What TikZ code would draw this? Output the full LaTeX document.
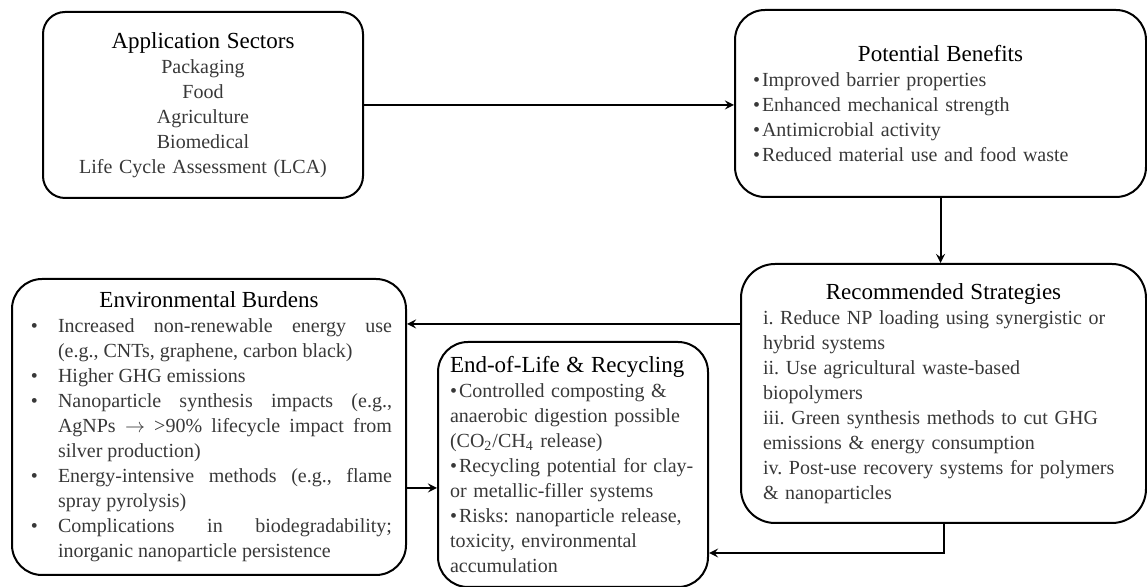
\documentclass[tikz,border=0pt]{standalone}
\usepackage{fontspec}
\setmainfont{Liberation Serif}
\usepackage{tikz}
\usepackage{xcolor}

\newcommand{\hd}[1]{{\fontsize{11.5}{12.5}\selectfont\color{black}#1}}
\newcommand{\bul}{\textbullet\kern1pt}

\begin{document}
\begin{tikzpicture}[x=0.5pt, y=-0.5pt, line width=1pt, >=stealth,
    box/.style={draw, rounded corners=15pt, inner ysep=2pt, text=black!78,
      font=\fontsize{10}{12.5}\selectfont\frenchspacing}]
    \useasboundingbox (0,0) rectangle (1147,587);
    % top row
    \node[box, rounded corners=11pt, text width=150pt, inner xsep=5pt, minimum height=93pt, align=center] (appl) at (203,105)
      {\hd{Application Sectors}\\ Packaging\\ Food\\ Agriculture\\ Biomedical\\ Life Cycle Assessment (LCA)};
    \node[box, text width=187.5pt, inner xsep=9pt, minimum height=93.5pt] (benef) at (940.5,103.5)
      {{\centering\hd{Potential Benefits}\par}\raggedright
       \bul Improved barrier properties\\ \bul Enhanced mechanical strength\\
       \bul Antimicrobial activity\\ \bul Reduced material use and food waste\\[4pt]};
    % bottom row
    \node[box, rounded corners=17pt, text width=180.5pt, inner xsep=11pt, minimum height=129.5pt] (strat) at (943.5,393.5)
      {{\centering\hd{Recommended Strategies}\par}\raggedright
       i. Reduce NP loading using synergistic or\\ hybrid systems\\
       ii. Use agricultural waste-based\\ biopolymers\\
       iii. Green synthesis methods to cut GHG\\ emissions \& energy consumption\\
       iv. Post-use recovery systems for polymers\\ \& nanoparticles};
    \node[box, text width=183pt, inner xsep=7pt, minimum height=148pt, align=justify] (env) at (209,427)
      {{\centering\hd{Environmental Burdens}\par}
       \rightskip=0pt\relax\csname @rightskip\endcsname=0pt\relax
       \begin{list}{\textbullet}{\setlength{\leftmargin}{16pt}\setlength{\labelwidth}{4pt}%
         \setlength{\labelsep}{10pt}\setlength{\topsep}{0pt}\setlength{\partopsep}{0pt}%
         \setlength{\itemsep}{0pt}\setlength{\parsep}{0pt}}
       \item Increased non-renewable energy use\linebreak (e.g., CNTs, graphene, carbon black)
       \item Higher GHG emissions
       \item Nanoparticle synthesis impacts (e.g.,\linebreak AgNPs $\rightarrow$ >90\% lifecycle impact from\linebreak silver production)
       \item Energy-intensive methods (e.g., flame\linebreak spray pyrolysis)
       \item Complications in biodegradability;\linebreak inorganic nanoparticle persistence
       \end{list}};
    \node[box, text width=123pt, inner xsep=6pt, minimum height=122.5pt] (eol) at (573,464.5)
      {\raggedright\hd{End-of-Life \& Recycling}\\
       \bul Controlled composting \&\\ anaerobic digestion possible\\
       (CO\textsubscript{2}/CH\textsubscript{4} release)\\
       \bul Recycling potential for clay-\\ or metallic-filler systems\\
       \bul Risks: nanoparticle release,\\ toxicity, environmental\\ accumulation};
    % connectors
    \draw[->] (appl.east) -- (appl.east -| benef.west);
    \draw[->] (benef.south) -- (benef.south |- strat.north);
    \coordinate (s1) at ([yshift=-30.5pt]strat.north west);
    \draw[->] (s1) -- (s1 -| env.east);
    \coordinate (e1) at ([yshift=-30.5pt]env.east);
    \draw[->] (e1) -- (e1 -| eol.west);
    \coordinate (r1) at ([yshift=-44.25pt]eol.east);
    \draw[->] (strat.south) |- (r1);
\end{tikzpicture}
\end{document}
